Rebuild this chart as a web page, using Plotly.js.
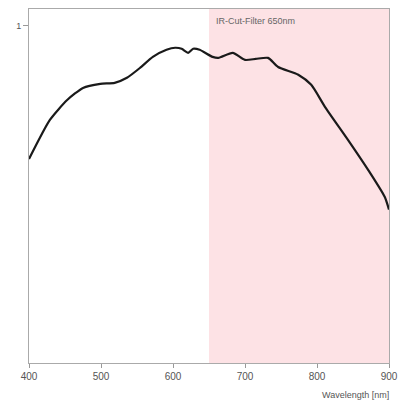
<!DOCTYPE html>
<html><head><meta charset="utf-8">
<script src="https://cdn.plot.ly/plotly-3.0.1.min.js"></script>
<style>html,body{margin:0;padding:0;background:#fff}#c{width:398px;height:405px}</style>
</head><body><div id="c"></div>
<script>
const wavelength = [400,429,453,475,499,519,536,554,572,591,603,612,621,628,637,655,663,683,700,715,732,746,774,792,811,843,871,894,900];
const response   = [0.605,0.721,0.78,0.816,0.828,0.831,0.846,0.875,0.908,0.929,0.935,0.932,0.92,0.932,0.929,0.908,0.905,0.92,0.899,0.902,0.905,0.878,0.855,0.825,0.76,0.662,0.573,0.493,0.455];
const xTicks = [400,500,600,700,800,900];
const yTicks = [1];
const filterStart = 650, filterEnd = 900;

const trace = {x: wavelength, y: response, mode:'lines', line:{color:'#1a1a1a', width:2.2, shape:'spline', smoothing:0.6}, hoverinfo:'none'};
const layout = {
  width:398, height:405,
  margin:{l:29, r:9, t:9, b:42},
  paper_bgcolor:'#fff', plot_bgcolor:'#fff',
  showlegend:false,
  font:{family:'Liberation Sans, Arial, sans-serif', color:'#555', size:10},
  xaxis:{range:[400,900], tickvals:xTicks, ticktext:xTicks.map(String), ticks:'outside', ticklen:4, tickcolor:'#999',
         showline:true, mirror:true, linecolor:'#aaa', linewidth:1, showgrid:false, zeroline:false, fixedrange:true,
         tickfont:{size:10, color:'#555'}},
  yaxis:{range:[0,1.05], tickvals:yTicks, ticktext:['1'], ticks:'outside', ticklen:5, tickcolor:'#999',
         showline:true, mirror:true, linecolor:'#aaa', linewidth:1, showgrid:false, zeroline:false, fixedrange:true,
         tickfont:{size:9, color:'#555'}},
  shapes:[{type:'rect', xref:'x', yref:'paper', x0:filterStart, x1:filterEnd, y0:0, y1:1, fillcolor:'#fde2e5', line:{width:0}, layer:'below'}],
  annotations:[
    {text:'IR-Cut-Filter 650nm', xref:'x', yref:'paper', x:657, y:0.965, xanchor:'left', yanchor:'middle', showarrow:false, font:{size:9, color:'#666'}},
    {text:'Wavelength [nm]', xref:'paper', yref:'paper', x:1.005, y:-0.09, xanchor:'right', yanchor:'middle', showarrow:false, font:{size:9, color:'#555'}}
  ]
};
Plotly.newPlot('c',[trace],layout,{staticPlot:true, displayModeBar:false});
</script></body></html>
